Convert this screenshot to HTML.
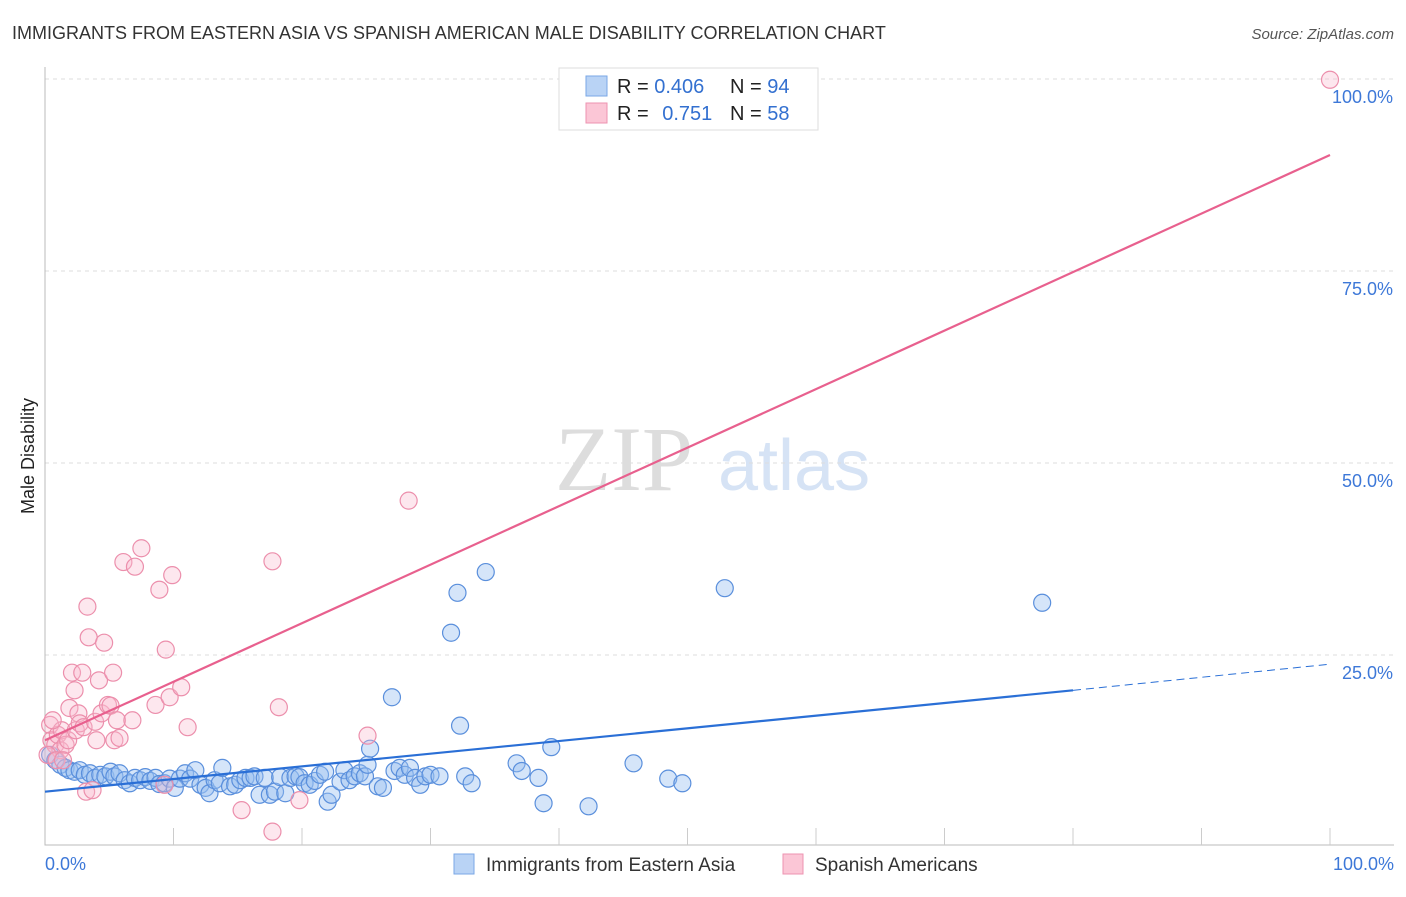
<!DOCTYPE html>
<html><head><meta charset="utf-8"><style>
body{margin:0;background:#fff;font-family:"Liberation Sans",sans-serif;}
svg text{font-family:"Liberation Sans",sans-serif;}
</style></head><body>
<svg id="chart" width="1406" height="892">
<text x="12" y="39" font-size="18" fill="#333">IMMIGRANTS FROM EASTERN ASIA VS SPANISH AMERICAN MALE DISABILITY CORRELATION CHART</text>
<text x="1394" y="39" font-size="15" fill="#555" font-style="italic" text-anchor="end">Source: ZipAtlas.com</text>
<text x="34" y="456" font-size="18" fill="#222" transform="rotate(-90 34 456)" text-anchor="middle">Male Disability</text>
<text x="555" y="490" font-size="92" fill="#ddd" font-family="Liberation Serif" style="font-family:'Liberation Serif',serif">ZIP</text>
<text x="718" y="490" font-size="72" fill="#d6e3f5">atlas</text>
<g id="grid"></g><g id="axes"></g><g id="pts"></g><g id="lines"></g>
<g>
<rect x="559" y="68" width="259" height="62" fill="#fff" stroke="#ddd"/>
<rect x="586" y="76" width="21" height="20" fill="#b9d3f5" stroke="#7aa7e6"/>
<rect x="586" y="103" width="21" height="20" fill="#fbc6d6" stroke="#ee93b0"/>
<text x="617" y="93" font-size="20" fill="#222">R = <tspan fill="#3370d0">0.406</tspan></text>
<text x="730" y="93" font-size="20" fill="#222">N = <tspan fill="#3370d0">94</tspan></text>
<text x="617" y="120" font-size="20" fill="#222">R = <tspan fill="#3370d0" dx="8">0.751</tspan></text>
<text x="730" y="120" font-size="20" fill="#222">N = <tspan fill="#3370d0">58</tspan></text>
</g>
<g>
<rect x="454" y="854" width="20" height="20" fill="#b9d3f5" stroke="#7aa7e6"/>
<text x="486" y="871" font-size="19" fill="#333">Immigrants from Eastern Asia</text>
<rect x="783" y="854" width="20" height="20" fill="#fbc6d6" stroke="#ee93b0"/>
<text x="815" y="871" font-size="19" fill="#333">Spanish Americans</text>
</g>
</svg>
<script>
const yTicks=[25,50,75,100];
const yTickLabels=["25.0%","50.0%","75.0%","100.0%"];
const blueX=[0.4,0.8,1.2,1.6,1.9,2.3,2.7,3.1,3.5,3.9,4.3,4.7,5.1,5.4,5.8,6.2,6.6,7.0,7.4,7.8,8.2,8.6,8.9,9.3,9.7,10.1,10.5,10.9,11.3,11.7,12.1,12.5,12.8,13.2,13.6,13.8,14.4,14.8,15.2,15.6,16.0,16.3,16.7,17.1,17.5,17.9,18.3,18.7,19.1,19.5,19.8,20.2,20.6,21.0,21.4,21.8,22.0,22.3,23.0,23.3,23.7,24.1,24.5,24.9,25.1,25.3,25.9,26.3,27.2,27.6,28.0,28.4,28.8,29.2,29.6,30.0,30.7,31.6,32.1,32.3,32.7,33.2,34.3,27.0,36.7,37.1,38.4,38.8,39.4,42.3,45.8,48.5,49.6,52.9,77.6];
const blueY=[12.0,11.3,10.7,10.3,10.0,9.8,10.0,9.4,9.6,9.0,9.4,9.2,9.8,9.2,9.6,8.7,8.3,9.0,8.7,9.1,8.6,9.0,8.2,8.3,8.9,7.7,8.9,9.6,8.9,10.0,8.1,7.7,7.0,8.7,8.3,10.3,7.9,8.1,8.7,9.0,9.0,9.2,6.8,9.0,6.8,7.2,9.1,7.0,9.0,9.2,9.1,8.3,8.1,8.6,9.4,9.8,5.9,6.8,8.5,10.0,8.7,9.2,9.6,9.2,10.7,12.8,7.9,7.7,9.9,10.3,9.4,10.3,9.0,8.1,9.2,9.4,9.2,27.9,33.1,15.8,9.2,8.3,35.8,19.5,10.9,9.9,9.0,5.7,13.0,5.3,10.9,8.9,8.3,33.7,31.8];
const pinkX=[0.4,0.5,0.8,1.0,1.2,1.3,1.6,1.8,1.9,2.1,2.3,2.4,2.6,2.7,2.9,3.0,3.2,3.3,3.4,3.7,3.9,4.0,4.2,4.4,4.6,4.9,5.1,5.3,5.4,5.6,5.8,6.1,6.8,7.0,7.5,8.6,8.9,9.3,9.4,9.7,9.9,10.6,11.1,15.3,17.7,17.7,18.2,19.8,25.1,28.3,100,0.2,0.6,0.9,1.4];
const pinkY=[15.9,13.9,13.3,14.6,12.6,15.2,13.3,13.9,18.1,22.7,20.4,15.2,17.4,16.1,22.7,15.6,7.2,31.3,27.3,7.4,16.3,13.9,21.7,17.4,26.6,18.5,18.4,22.7,13.9,16.5,14.2,37.1,16.5,36.5,38.9,18.5,33.5,8.1,25.7,19.5,35.4,20.8,15.6,4.8,37.2,2.0,18.2,6.1,14.5,45.1,99.9,12.0,16.5,11.3,11.3];
const blueTrend=[[0,7.2],[80,20.4]];
const blueDash=[[80,20.4],[100,23.8]];
const pinkTrend=[[0,13.9],[100,90.1]];
const NS="http://www.w3.org/2000/svg";
const X=v=>45+v*12.85, Y=v=>847-v*7.68;
function mk(t,a,p){const e=document.createElementNS(NS,t);for(const k in a)e.setAttribute(k,a[k]);p.appendChild(e);return e;}
const grid=document.getElementById('grid'),axes=document.getElementById('axes'),pts=document.getElementById('pts'),lines=document.getElementById('lines');
yTicks.forEach((t,i)=>{
 const l=mk('line',{x1:45,x2:1394,y1:Y(t),y2:Y(t),stroke:'#ddd','stroke-dasharray':'4,4'},grid);
 
 
 const tx=mk('text',{x:1393,y:Y(t)+24,'font-size':18,fill:'#3d78d8','text-anchor':'end'},grid);
 tx.textContent=yTickLabels[i];
 
 
});
const ax=mk('path',{d:'M45,67V845H1394',stroke:'#bbb',fill:'none'},axes);


for(let i=1;i<=10;i++){const t=mk('line',{x1:X(i*10),x2:X(i*10),y1:828,y2:845,stroke:'#ccc'},axes);
 
 }
const x0=mk('text',{x:45,y:870,'font-size':18,fill:'#3d78d8'},axes);x0.textContent='0.0%';


const x1=mk('text',{x:1394,y:870,'font-size':18,fill:'#3d78d8','text-anchor':'end'},axes);x1.textContent='100.0%';


blueX.forEach((v,i)=>{const c=mk('circle',{cx:X(v),cy:Y(blueY[i]),r:8.5,fill:'rgba(150,190,240,0.4)',stroke:'#5a8fdc','stroke-width':1.2},pts);
 
 });
pinkX.forEach((v,i)=>{const c=mk('circle',{cx:X(v),cy:Y(pinkY[i]),r:8.5,fill:'rgba(250,185,205,0.35)',stroke:'#ec8fac','stroke-width':1.2},pts);
 
 });
function ln(p,st,dash,name){const l=mk('line',{x1:X(p[0][0]),y1:Y(p[0][1]),x2:X(p[1][0]),y2:Y(p[1][1]),stroke:st,'stroke-width':dash?1:2.2},lines);
 if(dash)l.setAttribute('stroke-dasharray','8,5');
 
 }
ln(pinkTrend,'#e8608e',false,'trend-spanish-american');
ln(blueTrend,'#2a6fd6',false,'trend-eastern-asia');
ln(blueDash,'#2a6fd6',true,'trend-eastern-asia-extension');
</script>
</body></html>
